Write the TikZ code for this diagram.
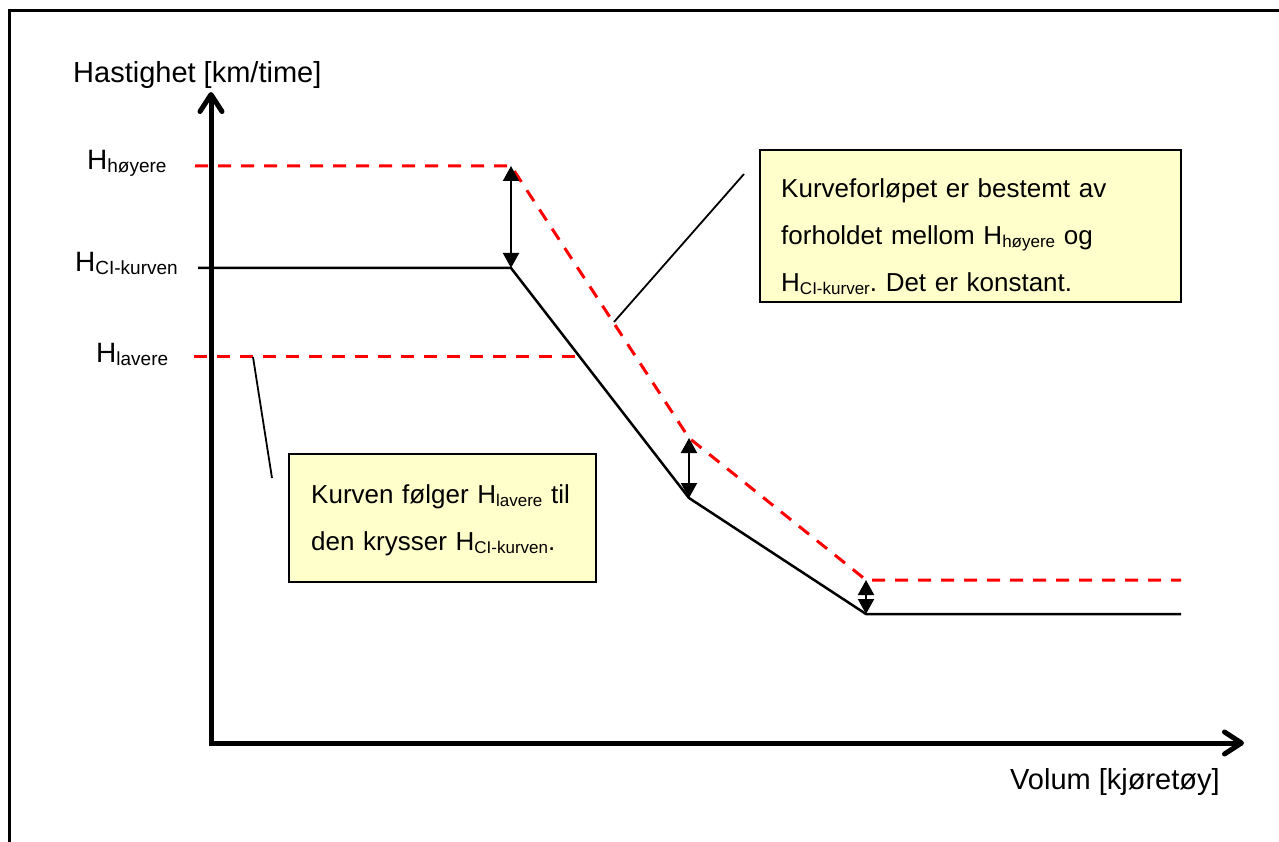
\documentclass[tikz,border=0pt]{standalone}
\usepackage{fontspec}
\setmainfont{Liberation Sans}
\usetikzlibrary{arrows.meta}
\definecolor{notefill}{HTML}{FFFFCC}
\newcommand{\lowsub}[2][19]{\raisebox{-3pt}{\fontsize{#1}{#1}\selectfont #2}}
\frenchspacing

\begin{document}
\begin{tikzpicture}[x=1pt, y=-1pt,
    axis/.style={line width=5pt, {Straight Barb[length=17pt,width=22pt,round]}-{Straight Barb[length=17pt,width=22pt,round]}},
    curve/.style={line width=2.5pt},
    limit/.style={line width=3pt, red, dash pattern=on 13pt off 10pt},
    gap/.style={line width=2pt, {Triangle[length=15pt,width=16pt]}-{Triangle[length=15pt,width=16pt]}},
    callout/.style={line width=1.8pt},
    note/.style={draw, line width=2pt, fill=notefill, inner sep=0pt},
    notetext/.style={font=\fontsize{26}{47}\selectfont, text width=400pt, align=left, inner sep=0pt, anchor=base west},
    axlabel/.style={font=\fontsize{29}{34}\selectfont, inner sep=0pt, anchor=base west},
    hlabel/.style={font=\fontsize{28}{32}\selectfont, inner sep=0pt, anchor=base west}]
    \useasboundingbox (0,0) rectangle (1279,842);
    \draw[line width=3pt] (9.5,842) -- (9.5,10.5) -- (1279,10.5);

    \coordinate (O) at (211,743);
    \coordinate (ytip) at (211,92);
    \coordinate (xtip) at (1244,743);

    \coordinate (c0) at (198,268);
    \coordinate (c1) at (511,268);
    \coordinate (c2) at (689,498);
    \coordinate (c3) at (866,614);
    \coordinate (c4) at (1181,614);

    \coordinate (h0) at (195,166);
    \coordinate (h1) at (511,166);
    \coordinate (h2) at (689,438);
    \coordinate (h3) at (866,580);
    \coordinate (h4) at (1181,580);

    \coordinate (l0) at (194,356);
    \coordinate (l1) at (579,356);

    \coordinate (p1) at (614,322);
    \coordinate (q1) at (744,174);
    \coordinate (p2) at (253,357);
    \coordinate (q2) at (272,478);

    \node[note, minimum width=421pt, minimum height=152pt] (note1) at (970.5,226) {};
    \node[note, minimum width=307pt, minimum height=128pt] (note2) at (442.5,518) {};

    \draw[limit] (h0) -- (h1) -- (h2) -- (h3) -- (h4);
    \draw[limit] (l0) -- (l1);
    \draw[curve] (c0) -- (c1) -- (c2) -- (c3) -- (c4);
    \draw[axis] (ytip) -- (O) -- (xtip);

    \draw[gap] (h1) -- (c1);
    \draw[gap] (h2) -- (c2);
    \draw[gap] (h3) -- (c3);

    \draw[callout] (p1) -- (q1);
    \draw[callout] (p2) -- (q2);

    \node[axlabel] (ylabel) at (73,83) {Hastighet [km/time]};
    \node[axlabel] (xlabel) at (1010,789) {Volum [kjøretøy]};

    \node[hlabel] (hhigh) at (87,170) {H\lowsub{høyere}};
    \node[hlabel] (hci) at (75,272) {H\lowsub{CI-kurven}};
    \node[hlabel] (hlow) at (96,362) {H\lowsub{lavere}};

    \node[notetext] (note1text) at (781,198) {Kurveforløpet er bestemt av\\forholdet mellom H\lowsub[17]{høyere} og\\H\lowsub[17]{CI-kurver}. Det er konstant.};
    \node[notetext] (note2text) at (311,503) {Kurven følger H\lowsub[17]{lavere} til\\den krysser H\lowsub[17]{CI-kurven}.};
\end{tikzpicture}
\end{document}
